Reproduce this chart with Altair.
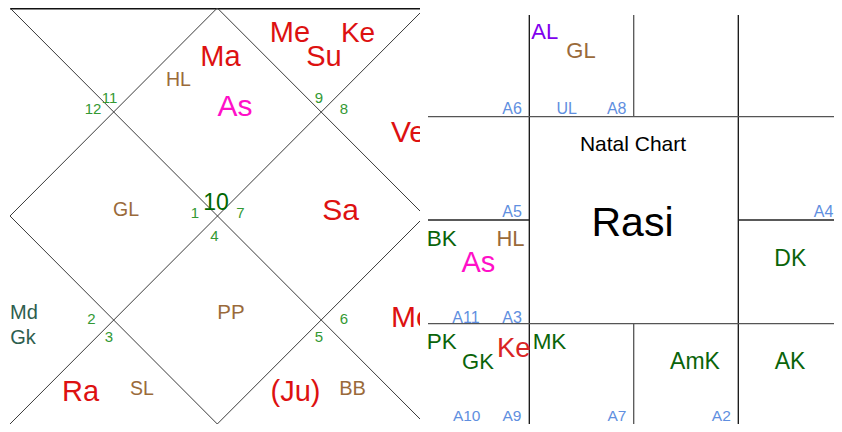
import altair as alt
import pandas as pd

FONT = "Liberation Sans, Arial, sans-serif"

RED = "#dd1111"
RED2 = "#d92525"
MAG = "#ff10c8"
BRN = "#9a6a3a"
GRN = "#339933"
DGRN = "#006600"
GRN2 = "#0a640a"
SLATE = "#2e5e4e"
BLUE = "#5f8fe0"
PURP = "#8000ee"
BLK = "#000000"

# ---- Left (diamond) chart labels: text, centre x, baseline y, size, colour
L_TEXT = ["Me", "Su", "Ke", "Ma", "HL", "As", "12", "11", "9", "8", "GL", "10", "1", "7",
          "Sa", "4", "PP", "Md", "Gk", "2", "3", "6", "5", "Ra", "SL", "(Ju)", "BB"]
L_X = [290, 324, 358, 220.5, 178.5, 235, 93, 109.5, 319, 344, 126, 216, 195, 240.5,
       340.5, 214.5, 231, 24, 23, 91.5, 109, 344, 319, 80.5, 142, 295.5, 352.5]
L_Y = [41.5, 65.5, 41.5, 65.5, 85.5, 116, 114, 103, 102.5, 114, 216, 209.5, 218, 218,
       220, 241, 319, 319, 343.5, 323.5, 342, 323.5, 342, 400.5, 395, 400.5, 395]
L_SIZE = [29, 29, 28, 29, 19.5, 30, 15, 15, 15, 15, 19.5, 23, 15, 15,
          30, 15, 20.5, 20, 20, 15, 15, 15, 15, 29, 19.5, 29, 20]
L_COL = [RED, RED, RED, RED, BRN, MAG, GRN, GRN, GRN, GRN, BRN, DGRN, GRN, GRN,
         RED, GRN, BRN, SLATE, SLATE, GRN, GRN, GRN, GRN, RED, BRN, RED, BRN]

# labels cut by the right chart (left-aligned)
C_TEXT = ["Ve", "Mo"]
C_X = [391, 391]
C_Y = [141.5, 326.5]
C_SIZE = [30, 30]
C_COL = [RED, RED]

# ---- Left chart lines
LL_X = [10, 10, 10, 217.3, 217.3, 10, 217.3]
LL_Y = [8.5, 8, 424, 8, 8, 216, 424]
LL_X2 = [420, 425, 425, 10, 425, 217.3, 425]
LL_Y2 = [8.5, 424, 8, 216, 216, 424, 216]
LL_W = [2, 1, 1, 1, 1, 1, 1]
LL_C = ["#111111", "#3a3a3a", "#3a3a3a", "#3a3a3a", "#3a3a3a", "#3a3a3a", "#3a3a3a"]

# ---- Right (square) chart lines
RL_X = [529.3, 738.3, 633.7, 633.7, 428, 428, 738.3, 428]
RL_Y = [15, 15, 15, 324, 116.7, 220, 220, 323.7]
RL_X2 = [529.3, 738.3, 633.7, 633.7, 842, 529.3, 842, 842]
RL_Y2 = [424, 424, 117, 424, 116.7, 220, 220, 323.7]
RL_W = [1.3, 1.3, 1.3, 1.3, 1.3, 1.3, 1.3, 1.3]
RL_C = ["#111111", "#111111", "#555555", "#555555", "#555555", "#222222", "#222222", "#555555"]

# ---- Right chart labels
R_TEXT = ["AL", "GL", "A6", "UL", "A8", "Natal Chart", "Rasi", "A5", "A4",
          "BK", "HL", "As", "A11", "A3", "DK",
          "PK", "GK", "Ke", "MK", "AmK", "AK", "A10", "A9", "A7", "A2"]
R_X = [544.7, 581, 512, 566.7, 616.7, 633, 632.5, 512, 823.5,
       441.7, 510.5, 478.3, 466, 512, 790.3,
       441.7, 478, 513.8, 549.5, 695, 790, 466.7, 512, 617, 721.3]
R_Y = [39, 58, 114, 114, 114, 150.5, 235.5, 217, 217,
       245.5, 245.5, 271.5, 322.5, 322.5, 265.5,
       349, 369, 356.5, 349, 369, 369, 420.5, 420.5, 420.5, 420.5]
R_SIZE = [22, 22, 16, 16, 16, 21, 41, 16, 16,
          22.5, 22, 29, 16, 16, 23,
          22.5, 22, 27.5, 22.5, 23, 23, 15.5, 15.5, 15.5, 15.5]
R_COL = [PURP, BRN, BLUE, BLUE, BLUE, BLK, BLK, BLUE, BLUE,
         GRN2, BRN, MAG, BLUE, BLUE, GRN2,
         GRN2, GRN2, RED2, GRN2, GRN2, GRN2, BLUE, BLUE, BLUE, BLUE]

# white area hiding the right part of the left chart
MASK_X, MASK_X2, MASK_Y, MASK_Y2 = [420], [860], [0], [440]

xs = alt.Scale(domain=[8, 834], nice=False, zero=False)
ys = alt.Scale(domain=[8, 424], nice=False, zero=False, reverse=True)


def rules(xa, ya, xb, yb, w, c):
    df = pd.DataFrame({"x": xa, "y": ya, "x2": xb, "y2": yb, "w": w, "c": c})
    return alt.Chart(df).mark_rule(clip=False).encode(
        x=alt.X("x:Q", scale=xs, axis=None),
        y=alt.Y("y:Q", scale=ys, axis=None),
        x2="x2:Q", y2="y2:Q",
        strokeWidth=alt.StrokeWidth("w:Q", scale=None),
        color=alt.Color("c:N", scale=None),
    )


def texts(t, xa, ya, s, c, align="center"):
    df = pd.DataFrame({"t": t, "x": xa, "y": ya, "s": s, "c": c})
    return alt.Chart(df).mark_text(align=align, baseline="alphabetic", font=FONT, clip=False).encode(
        x=alt.X("x:Q", scale=xs, axis=None),
        y=alt.Y("y:Q", scale=ys, axis=None),
        text="t:N",
        size=alt.Size("s:Q", scale=None),
        color=alt.Color("c:N", scale=None),
    )


mask = alt.Chart(pd.DataFrame({"x": MASK_X, "x2": MASK_X2, "y": MASK_Y, "y2": MASK_Y2})).mark_rect(
    color="white", clip=False).encode(
    x=alt.X("x:Q", scale=xs, axis=None), x2="x2:Q",
    y=alt.Y("y:Q", scale=ys, axis=None), y2="y2:Q")

chart = alt.layer(
    rules(LL_X, LL_Y, LL_X2, LL_Y2, LL_W, LL_C),
    texts(L_TEXT, L_X, L_Y, L_SIZE, L_COL),
    texts(C_TEXT, C_X, C_Y, C_SIZE, C_COL, align="left"),
    mask,
    rules(RL_X, RL_Y, RL_X2, RL_Y2, RL_W, RL_C),
    texts(R_TEXT, R_X, R_Y, R_SIZE, R_COL),
).properties(
    width=826, height=416,
    autosize=alt.AutoSizeParams(type="none"),
    padding=0,
    background="white",
).configure_view(stroke=None)

chart.save("out.html", embed_options={"renderer": "svg", "actions": False})
